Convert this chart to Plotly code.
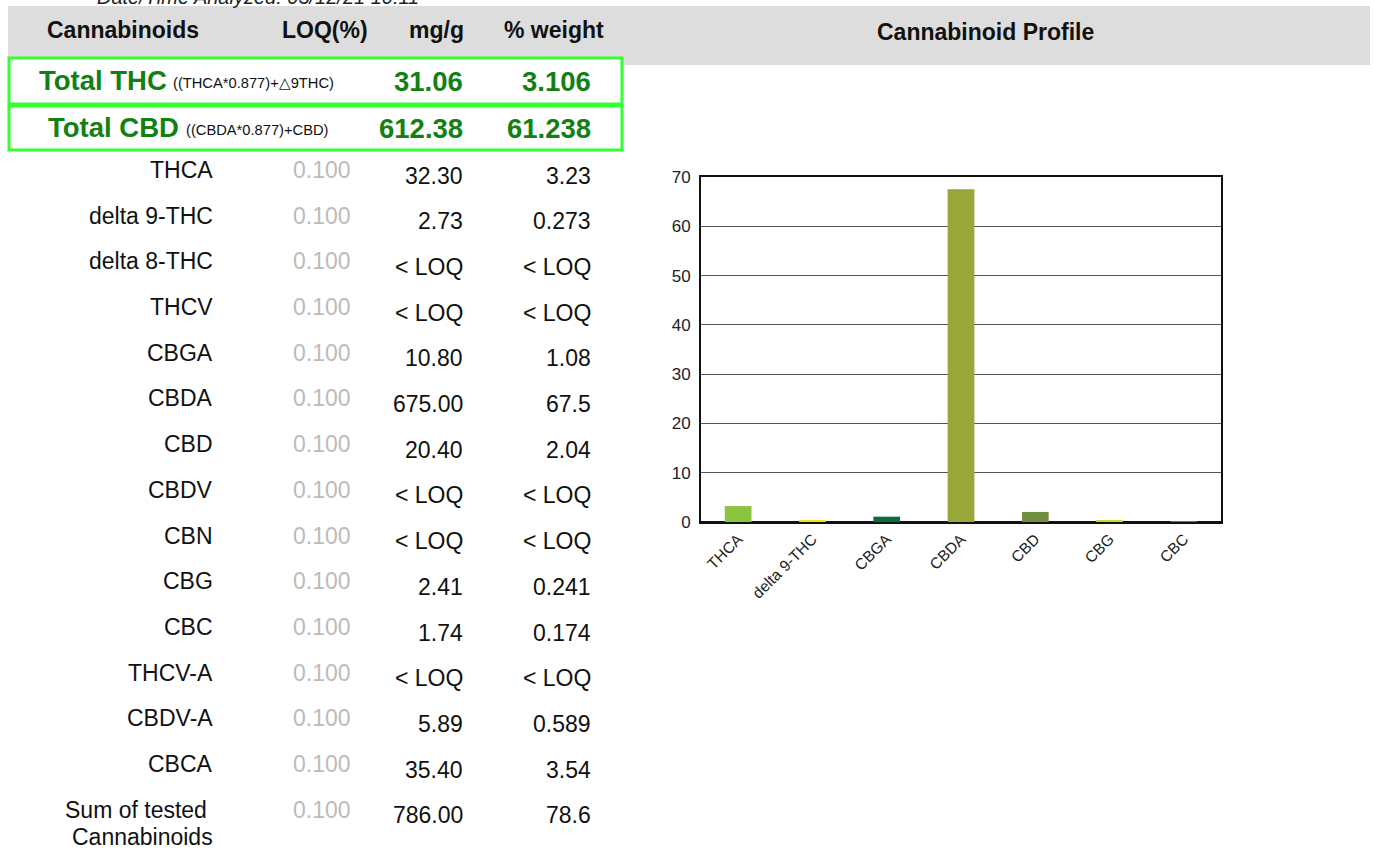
import plotly.graph_objects as go

W, H = 1373, 850

# ---------------- data ----------------
date_text = "Date/Time Analyzed: 03/12/21 10:11"
header_cols = ["Cannabinoids", "LOQ(%)", "mg/g", "% weight"]
chart_title = "Cannabinoid Profile"

total_labels = ["Total THC", "Total CBD"]
total_formulas = ["((THCA*0.877)+△9THC)", "((CBDA*0.877)+CBD)"]
total_mg = ["31.06", "612.38"]
total_pct = ["3.106", "61.238"]

names = ["THCA", "delta 9-THC", "delta 8-THC", "THCV", "CBGA", "CBDA", "CBD",
         "CBDV", "CBN", "CBG", "CBC", "THCV-A", "CBDV-A", "CBCA",
         "Sum of tested<br>Cannabinoids"]
loq = ["0.100"] * 15
mg = ["32.30", "2.73", "< LOQ", "< LOQ", "10.80", "675.00", "20.40", "< LOQ",
      "< LOQ", "2.41", "1.74", "< LOQ", "5.89", "35.40", "786.00"]
pct = ["3.23", "0.273", "< LOQ", "< LOQ", "1.08", "67.5", "2.04", "< LOQ",
       "< LOQ", "0.241", "0.174", "< LOQ", "0.589", "3.54", "78.6"]

chart_cats = ["THCA", "delta 9-THC", "CBGA", "CBDA", "CBD", "CBG", "CBC"]
chart_vals = [3.23, 0.273, 1.08, 67.5, 2.04, 0.241, 0.174]
chart_colors = ["#8BC43F", "#F2E21A", "#0B6E3A", "#98A63A", "#718F3E", "#C9D82F", "#3E9047"]

# ---------------- helpers ----------------
def px(x):
    return x / W

def py(y):
    return 1 - y / H

FONT = "Liberation Sans, Arial, sans-serif"
GREEN_TXT = "#138013"
annotations = []

def txt(text, x, y, anchor="right", size=23, color="#111", bold=False, italic=False):
    t = text
    if bold:
        t = "<b>" + t + "</b>"
    if italic:
        t = "<i>" + t + "</i>"
    annotations.append(dict(text=t, x=px(x), y=py(y), xref="paper", yref="paper",
                            xanchor=anchor, yanchor="middle", showarrow=False,
                            font=dict(family=FONT, size=size, color=color), align="center"))

# cut-off date line
txt(date_text, 95, -3, anchor="left", size=20, color="#222", italic=True)

# header
header_x = [123, 325, 436, 554]
for h, x in zip(header_cols, header_x):
    txt(h, x, 30, anchor="center", size=23, bold=True)
txt(chart_title, 985, 32, anchor="center", size=23, bold=True)

# totals
tot_lbl_x = [37, 46]
tot_form_x = [171, 184]
tot_y = [80, 127]
for i in range(2):
    txt(total_labels[i], tot_lbl_x[i], tot_y[i], anchor="left", size=27.5, color=GREEN_TXT, bold=True)
    txt(total_formulas[i], tot_form_x[i], tot_y[i] + 3, anchor="left", size=14.7, color="#111")
    txt(total_mg[i], 465, tot_y[i] + 1, anchor="right", size=27.5, color=GREEN_TXT, bold=True)
    txt(total_pct[i], 593, tot_y[i] + 1, anchor="right", size=27.5, color=GREEN_TXT, bold=True)

# rows
row_step = 45.7
for i in range(len(names)):
    y0 = 170 + i * row_step
    parts = names[i].split("<br>")
    if len(parts) == 2:
        txt(parts[0], 209, y0, anchor="right", size=23)
        txt(parts[1], 215, y0 + 27, anchor="right", size=23)
    else:
        txt(names[i], 215, y0, anchor="right", size=23)
    txt(loq[i], 353, y0, anchor="right", size=23, color="#BBBBBB")
    txt(mg[i], 465, y0 + 5.5, anchor="right", size=23)
    txt(pct[i], 593, y0 + 5.5, anchor="right", size=23)

shapes = [
    dict(type="rect", xref="paper", yref="paper", x0=px(8), x1=px(1370), y0=py(65), y1=py(6),
         fillcolor="#DDDDDD", line=dict(width=0), layer="below"),
    dict(type="rect", xref="paper", yref="paper", x0=px(9), x1=px(622), y0=py(104), y1=py(58),
         fillcolor="white", line=dict(color="#33FF33", width=3), layer="below"),
    dict(type="rect", xref="paper", yref="paper", x0=px(9), x1=px(622), y0=py(150), y1=py(106),
         fillcolor="white", line=dict(color="#33FF33", width=3), layer="below"),
]

fig = go.Figure(go.Bar(x=chart_cats, y=chart_vals, marker=dict(color=chart_colors, line=dict(width=0)),
                       width=0.36, hoverinfo="x+y"))

fig.update_layout(
    width=W, height=H, margin=dict(l=0, r=0, t=0, b=0, autoexpand=False),
    paper_bgcolor="white", plot_bgcolor="white", showlegend=False,
    font=dict(family=FONT, color="#111"),
    annotations=annotations, shapes=shapes,
    xaxis=dict(domain=[px(701), px(1221)], tickangle=-45, tickfont=dict(size=15.5, color="#222"),
               showline=True, linecolor="#111", linewidth=2, mirror=True, showgrid=False,
               layer="below traces", ticks="", automargin=False),
    yaxis=dict(domain=[py(522), py(177)], range=[0, 70], dtick=10, showgrid=True,
               gridcolor="#555555", gridwidth=1.3, zeroline=True, zerolinecolor="#111",
               zerolinewidth=3, showline=True, linecolor="#111", linewidth=2, mirror=True,
               tickfont=dict(size=17, color="#222"), ticklabelstandoff=5, ticks="",
               layer="below traces", automargin=False),
)

fig.write_html(
    "out.html",
    config={"displayModeBar": False},
    post_script=(
        "document.body.style.margin='0';"
        "var d=document.getElementById('{plot_id}');"
        "d.style.position='fixed';d.style.left='0px';d.style.top='0px';"
    ),
)
